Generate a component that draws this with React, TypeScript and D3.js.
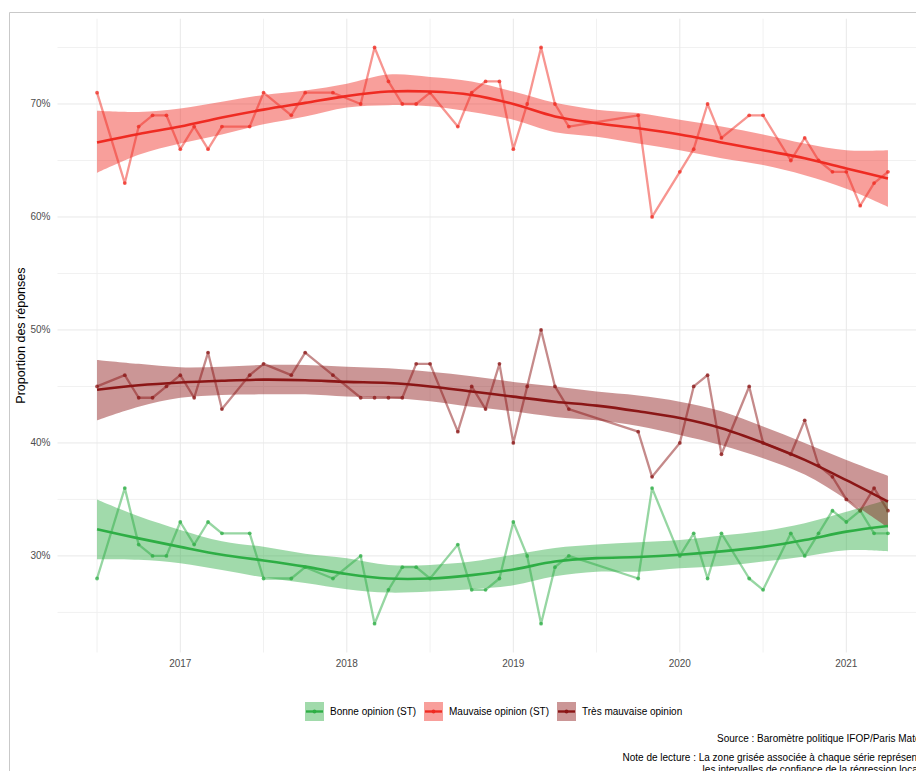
import React from "react";
import * as d3 from "d3";

// ---- data ----
const months = [
  "2016-07", "2016-09", "2016-10", "2016-11", "2016-12",
  "2017-01", "2017-02", "2017-03", "2017-04", "2017-06", "2017-07", "2017-09", "2017-10", "2017-12",
  "2018-02", "2018-03", "2018-04", "2018-05", "2018-06", "2018-07", "2018-09", "2018-10", "2018-11", "2018-12",
  "2019-01", "2019-02", "2019-03", "2019-04", "2019-05", "2019-10", "2019-11",
  "2020-01", "2020-02", "2020-03", "2020-04", "2020-06", "2020-07", "2020-09", "2020-10", "2020-11", "2020-12",
  "2021-01", "2021-02", "2021-03", "2021-04",
];
const bonne = [
  28, 36, 31, 30, 30,
  33, 31, 33, 32, 32, 28, 28, 29, 28,
  30, 24, 27, 29, 29, 28, 31, 27, 27, 28,
  33, 30, 24, 29, 30, 28, 36,
  30, 32, 28, 32, 28, 27, 32, 30, 32, 34,
  33, 34, 32, 32,
];
const mauvaise = [
  71, 63, 68, 69, 69,
  66, 68, 66, 68, 68, 71, 69, 71, 71,
  70, 75, 72, 70, 70, 71, 68, 71, 72, 72,
  66, 70, 75, 70, 68, 69, 60,
  64, 66, 70, 67, 69, 69, 65, 67, 65, 64,
  64, 61, 63, 64,
];
const tresMauvaise = [
  45, 46, 44, 44, 45,
  46, 44, 48, 43, 46, 47, 46, 48, 46,
  44, 44, 44, 44, 47, 47, 41, 45, 43, 47,
  40, 45, 50, 45, 43, 41, 37,
  40, 45, 46, 39, 45, 40, 39, 42, 38, 37,
  35, 34, 36, 34,
];

// local regression at quarter-year steps
const smoothT = [
  2016.5, 2016.75, 2017.0, 2017.25, 2017.5, 2017.75, 2018.0, 2018.25, 2018.5, 2018.75,
  2019.0, 2019.25, 2019.5, 2019.75, 2020.0, 2020.25, 2020.5, 2020.75, 2021.0, 2021.25,
];
const bonneFit = [32.35, 31.55, 30.8, 30.1, 29.6, 29.05, 28.4, 28.0, 28.0, 28.3, 28.8, 29.5, 29.8, 29.9, 30.1, 30.4, 30.8, 31.4, 32.15, 32.65];
const bonneLo = [29.7, 29.65, 29.35, 28.75, 28.1, 27.6, 27.05, 26.75, 26.85, 27.05, 27.4, 28.2, 28.6, 28.6, 28.9, 29.1, 29.5, 29.95, 30.5, 30.4];
const bonneHi = [35.0, 33.5, 32.3, 31.3, 30.8, 30.2, 29.8, 29.2, 29.2, 29.5, 30.1, 30.7, 31.0, 31.2, 31.4, 31.8, 32.2, 32.9, 33.9, 35.0];

const mauvaiseFit = [66.6, 67.35, 68.0, 68.8, 69.5, 70.1, 70.7, 71.1, 71.1, 70.8, 70.0, 68.9, 68.3, 67.85, 67.3, 66.6, 65.9, 65.2, 64.3, 63.4];
const mauvaiseLo = [63.9, 65.5, 66.5, 67.3, 68.2, 68.9, 69.7, 69.9, 69.8, 69.3, 68.6, 67.5, 67.1, 66.5, 65.9, 65.2, 64.6, 63.7, 62.5, 60.9];
const mauvaiseHi = [69.4, 69.3, 69.6, 70.2, 70.8, 71.2, 71.8, 72.6, 72.4, 72.0, 71.1, 70.1, 69.5, 69.2, 68.6, 68.0, 67.3, 66.5, 65.9, 65.9];

const tresFit = [44.7, 45.1, 45.35, 45.5, 45.6, 45.55, 45.4, 45.3, 45.0, 44.55, 44.1, 43.65, 43.3, 42.8, 42.2, 41.3, 40.0, 38.5, 36.7, 34.8];
const tresLo = [42.0, 43.2, 44.0, 44.25, 44.3, 44.3, 44.1, 44.0, 43.7, 43.2, 42.8, 42.3, 42.0, 41.5, 40.7, 39.8, 38.65, 37.2, 35.0, 32.5];
const tresHi = [47.35, 47.0, 46.7, 46.75, 46.9, 46.9, 46.75, 46.6, 46.3, 45.9, 45.4, 45.0, 44.55, 44.2, 43.65, 42.8, 41.45, 40.0, 38.5, 37.1];

const seriesNames = ["Bonne opinion (ST)", "Mauvaise opinion (ST)", "Très mauvaise opinion"];
const seriesColors = ["#2eae45", "#ef2b22", "#8b1616"];

const yMajor = [30, 40, 50, 60, 70];
const yMinor = [25, 35, 45, 55, 65, 75];
const xMajor = [2017, 2018, 2019, 2020, 2021];
const xMinor = [2016.5, 2017.5, 2018.5, 2019.5, 2020.5];

const yTitle = "Proportion des réponses";
const captionLines = [
  "Source : Baromètre politique IFOP/Paris Match",
  "Note de lecture : La zone grisée associée à chaque série représente",
  "les intervalles de confiance de la régression locale",
];

// ---- layout ----
const W = 916;
const H = 771;
const FONT = "'Liberation Sans', Arial, Helvetica, sans-serif";
const captionY = [742, 761, 773];

const toT = (s: string) => {
  const [y, m] = s.split("-").map(Number);
  return y + (m - 1) / 12;
};

export default function App() {
  const ts = months.map(toT);
  const tMin = d3.min(ts)!;
  const tMax = d3.max(ts)!;
  const tPad = (tMax - tMin) * 0.05;
  const panelL = 57.5;
  const panelR = 927.5;
  const panelT = 18.7;
  const panelB = 652.5;

  const x = d3.scaleLinear().domain([tMin - tPad, tMax + tPad]).range([panelL, panelR]);
  const allV = [...bonne, ...mauvaise, ...tresMauvaise];
  const vMin = d3.min(allV)!;
  const vMax = d3.max(allV)!;
  const vPad = (vMax - vMin) * 0.05;
  const y = d3.scaleLinear().domain([vMin - vPad, vMax + vPad]).range([panelB, panelT]);

  const series = [
    { name: seriesNames[0], color: seriesColors[0], values: bonne, fit: bonneFit, lo: bonneLo, hi: bonneHi },
    { name: seriesNames[1], color: seriesColors[1], values: mauvaise, fit: mauvaiseFit, lo: mauvaiseLo, hi: mauvaiseHi },
    { name: seriesNames[2], color: seriesColors[2], values: tresMauvaise, fit: tresFit, lo: tresLo, hi: tresHi },
  ];

  const line = d3
    .line<[number, number]>()
    .x((d) => x(d[0]))
    .y((d) => y(d[1]));
  const smoothLine = d3
    .line<[number, number]>()
    .x((d) => x(d[0]))
    .y((d) => y(d[1]))
    .curve(d3.curveCatmullRom.alpha(0.5));
  const area = d3
    .area<[number, number, number]>()
    .x((d) => x(d[0]))
    .y0((d) => y(d[1]))
    .y1((d) => y(d[2]))
    .curve(d3.curveCatmullRom.alpha(0.5));

  const fmtYear = d3.format("d");

  // legend layout
  const legendY = 711.5;
  const keyW = 19;
  const keyH = 19;
  const legendX = [305, 424, 557];

  return (
    <svg
      width={W}
      height={H}
      viewBox={`0 0 ${W} ${H}`}
      style={{ position: "absolute", left: 0, top: 0, background: "#fff" }}
      fontFamily={FONT}
    >
      <rect x={0} y={0} width={W} height={H} fill="#fff" />
      {/* outer frame */}
      <line x1={9.5} x2={W} y1={12.5} y2={12.5} stroke="#c9c9c9" strokeWidth={1} />
      <line x1={9.5} x2={9.5} y1={12.5} y2={H} stroke="#c9c9c9" strokeWidth={1} />

      {/* grid */}
      <g>
        {yMinor.map((v) => (
          <line key={"ym" + v} x1={panelL} x2={panelR} y1={y(v)} y2={y(v)} stroke="#f1f1f1" strokeWidth={1} />
        ))}
        {xMinor.map((t) => (
          <line key={"xm" + t} x1={x(t)} x2={x(t)} y1={panelT} y2={panelB} stroke="#f1f1f1" strokeWidth={1} />
        ))}
        {yMajor.map((v) => (
          <line key={"yM" + v} x1={panelL} x2={panelR} y1={y(v)} y2={y(v)} stroke="#e8e8e8" strokeWidth={1} />
        ))}
        {xMajor.map((t) => (
          <line key={"xM" + t} x1={x(t)} x2={x(t)} y1={panelT} y2={panelB} stroke="#e8e8e8" strokeWidth={1} />
        ))}
      </g>

      {/* raw series lines */}
      {series.map((s) => (
        <path
          key={"l" + s.name}
          d={line(ts.map((t, i) => [t, s.values[i]] as [number, number])) || ""}
          fill="none"
          stroke={s.color}
          strokeOpacity={0.5}
          strokeWidth={2.3}
          strokeLinejoin="round"
        />
      ))}
      {/* points */}
      {series.map((s) => (
        <g key={"p" + s.name}>
          {ts.map((t, i) => (
            <circle key={i} cx={x(t)} cy={y(s.values[i])} r={1.9} fill={s.color} fillOpacity={0.75} />
          ))}
        </g>
      ))}
      {/* confidence ribbons */}
      {series.map((s) => (
        <path
          key={"a" + s.name}
          d={area(smoothT.map((t, i) => [t, s.lo[i], s.hi[i]] as [number, number, number])) || ""}
          fill={s.color}
          fillOpacity={0.45}
          stroke="none"
        />
      ))}
      {/* smooth lines */}
      {series.map((s) => (
        <path
          key={"s" + s.name}
          d={smoothLine(smoothT.map((t, i) => [t, s.fit[i]] as [number, number])) || ""}
          fill="none"
          stroke={s.color}
          strokeWidth={2.6}
        />
      ))}

      {/* y axis labels */}
      {yMajor.map((v) => (
        <text key={"yt" + v} x={50.5} y={y(v)} dy="0.35em" textAnchor="end" fontSize={10} fill="#4d4d4d">
          {v + "%"}
        </text>
      ))}
      {/* x axis labels */}
      {xMajor.map((t) => (
        <text key={"xt" + t} x={x(t)} y={667} textAnchor="middle" fontSize={10} fill="#4d4d4d">
          {fmtYear(t)}
        </text>
      ))}
      {/* y title */}
      <text
        transform={`translate(25,${(panelT + panelB) / 2}) rotate(-90)`}
        textAnchor="middle"
        fontSize={12.5}
        fill="#000"
      >
        {yTitle}
      </text>

      {/* legend */}
      {series.map((s, i) => (
        <g key={"lg" + s.name} transform={`translate(${legendX[i]},${legendY - keyH / 2})`}>
          <rect x={0} y={0} width={keyW} height={keyH} fill={s.color} fillOpacity={0.45} />
          <line x1={1} x2={keyW - 1} y1={keyH / 2} y2={keyH / 2} stroke={s.color} strokeWidth={2.4} />
          <circle cx={keyW / 2} cy={keyH / 2} r={1.9} fill={s.color} />
          <text x={keyW + 6} y={keyH / 2} dy="0.35em" fontSize={10} fill="#000">
            {s.name}
          </text>
        </g>
      ))}

      {/* caption */}
      {captionLines.map((l, i) => (
        <text key={"c" + i} x={925.5} y={captionY[i]} textAnchor="end" fontSize={10} fill="#000">
          {l}
        </text>
      ))}
    </svg>
  );
}
